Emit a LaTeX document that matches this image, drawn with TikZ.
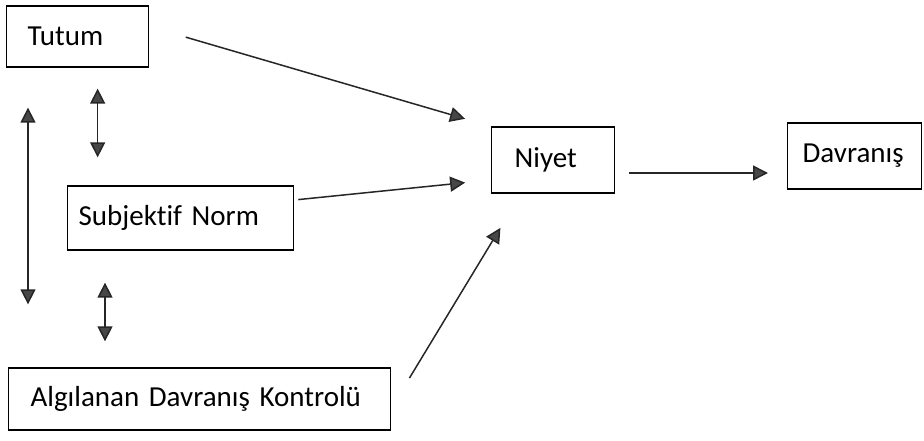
\documentclass[tikz,border=0pt]{standalone}
\usepackage{fontspec}
\setmainfont[Ligatures=CommonOff]{Carlito}
\usetikzlibrary{arrows.meta}
\newcommand\boxfont{\fontsize{29}{35}\selectfont\spaceskip=4.5pt\relax}

\begin{document}
\begin{tikzpicture} [x=1pt, y=-1pt, font=\boxfont,
  box/.style={draw, line width=1.3pt, anchor=west, align=left, inner ysep=0pt},
  arr/.style={line width=1.5pt, draw=black!85, -{Triangle[length=15pt, width=15pt, fill=black!72]}},
  darr/.style={line width=1.5pt, draw=black!85, {Triangle[length=15pt, width=15pt, fill=black!72]}-{Triangle[length=15pt, width=15pt, fill=black!72]}}]
\useasboundingbox (0,0) rectangle (924,441);
\node[box, inner xsep=21pt, text width=100pt, minimum height=61pt](tu) at (6,36.5){Tutum};
\node[box, inner xsep=11pt, text width=204pt, minimum height=64pt](sn) at (67,218){Subjektif Norm};
\node[box, inner xsep=22pt, text width=338pt, minimum height=62pt](adk) at (8,399){Algılanan Davranış Kontrolü};
\node[box, inner xsep=23pt, text width=77pt, minimum height=66pt](ni) at (491,160){Niyet};
\node[box, inner xsep=15pt, text width=104pt, minimum height=66pt](dv) at (787,156){Davranış};
\draw[arr, shorten <=38pt, shorten >=27pt] ([yshift=10pt]tu.east) -- (ni.north west);
\draw[arr, shorten <=4pt, shorten >=26pt] ([yshift=18pt]sn.east) -- ([yshift=-20pt]ni.west);
\draw[arr, shorten <=35pt, shorten >=40pt] ([yshift=-9pt]adk.east) -- ([xshift=-32pt]ni.south);
\draw[arr, shorten <=14pt, shorten >=19pt] ([yshift=-13pt]ni.east) -- ([yshift=-17pt]dv.west);
\draw[darr, shorten <=21pt, shorten >=28pt] ([xshift=20pt]tu.south) -- ([xshift=-83pt]sn.north);
\draw[darr, shorten <=40pt, shorten >=63pt] ([xshift=22pt]tu.south west) -- ([xshift=20pt]adk.north west);
\draw[darr, shorten <=32pt, shorten >=26pt] ([xshift=38pt]sn.south west) -- ([xshift=97pt]adk.north west);
\end{tikzpicture}
\end{document}
